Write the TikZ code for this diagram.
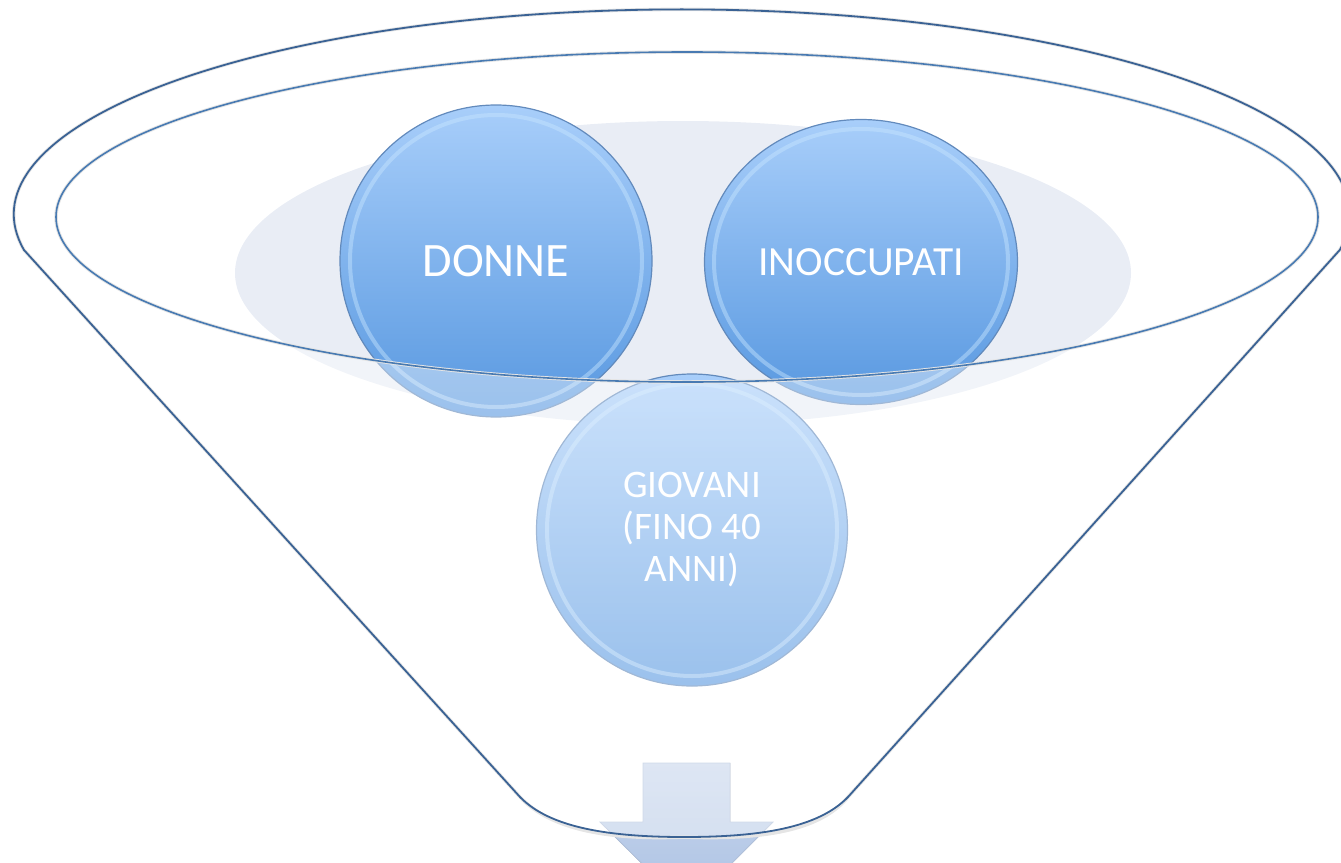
\documentclass[tikz,border=0pt]{standalone}
\usepackage{fontspec}
\setmainfont{Carlito}
\usepackage{tikz}
\usetikzlibrary{shapes.geometric}
\usetikzlibrary{positioning}
\definecolor{bubbletop}{RGB}{168,206,250}
\definecolor{bubblebot}{RGB}{88,152,224}
\definecolor{bubbleedge}{RGB}{98,138,188}
\definecolor{bubblering}{RGB}{200,230,255}
\definecolor{rimblue}{RGB}{58,98,148}
\definecolor{innerblue}{RGB}{72,122,178}
\definecolor{hazegray}{RGB}{233,237,245}
\definecolor{arrowtop}{RGB}{200,214,236}
\definecolor{arrowbot}{RGB}{172,194,228}
\definecolor{arrowedge}{RGB}{176,192,218}
\tikzstyle{bubble} = [ellipse, inner sep=0pt, top color=bubbletop,
                      bottom color=bubblebot, draw=bubbleedge, line width=1.2pt,
                      text=white, align=center]
\tikzstyle{ring} = [draw=bubblering, line width=4pt, opacity=.45]
\tikzstyle{rim} = [draw=rimblue, line width=1.8pt]
\tikzstyle{innerrim} = [draw=innerblue, line width=1.6pt]
\tikzstyle{veil} = [fill=white, fill opacity=.4]
\tikzstyle{haze} = [fill=hazegray]
\tikzstyle{drop} = [draw=black!10, line width=3.5pt]
\tikzstyle{downarrow} = [top color=arrowtop, bottom color=arrowbot,
                         draw=arrowedge, line width=.8pt]
\newcommand{\funnelpath}{(bendL) -- (rimL)
  arc[start angle=170, end angle=370, x radius=668, y radius=205]
  -- (bendR) .. controls (818,828) and (760,837) .. (neck)
  .. controls (610,837) and (550,828) .. (bendL) -- cycle}

\begin{document}
\begin{tikzpicture}[x=1pt, y=-1pt]
  \useasboundingbox (0,0) rectangle (1341,862);
  % funnel corners
  \coordinate (rimL) at (24,250);
  \coordinate (bendL) at (520,797);
  \coordinate (bendR) at (848,797);
  \coordinate (neck) at (684,837);
  \coordinate (mouth) at (687,217);

  % background glow
  \fill [haze] (683,273) ellipse [x radius=448, y radius=152];

  % Place nodes
  \node [bubble, minimum width=312, minimum height=312,
         font=\fontsize{48}{58}\selectfont] (donne) at (496,261) {DONNE};
  \node [bubble, minimum width=313, minimum height=285,
         font=\fontsize{41.5}{50}\selectfont] (inocc) at (861,262) {INOCCUPATI};
  \node [bubble, minimum width=311, minimum height=312,
         font=\fontsize{39}{42}\selectfont] (giovani) at (692,530)
         {GIOVANI\\(FINO 40\\ANNI)};

  \draw [ring] (donne.center) ellipse [x radius=146, y radius=146];
  \draw [ring] (inocc.center) ellipse [x radius=147, y radius=133];
  \draw [ring] (giovani.center) ellipse [x radius=145, y radius=146];

  % arrow out of the funnel
  \filldraw [downarrow] (643,763) -- (730,763) -- (730,822) -- (773,822)
    -- (687,908) -- (600,822) -- (643,822) -- cycle;

  % funnel body
  \fill [veil, even odd rule] \funnelpath
    (mouth) ellipse [x radius=631, y radius=165];
  \begin{scope}[xshift=2pt, yshift=-3pt]
    \draw [drop] \funnelpath;
    \draw [drop] (mouth) ellipse [x radius=631, y radius=165];
  \end{scope}
  \draw [rim] \funnelpath;
  \draw [innerrim] (mouth) ellipse [x radius=631, y radius=165];

\end{tikzpicture}
\end{document}
